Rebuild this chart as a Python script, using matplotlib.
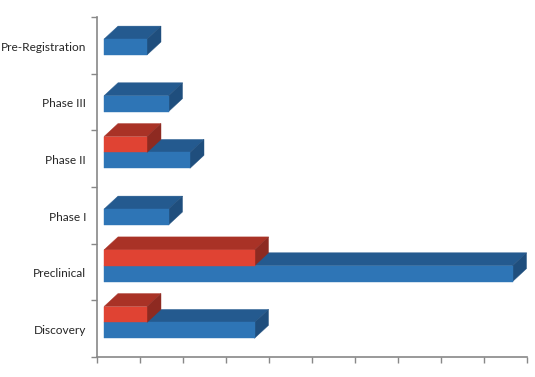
import numpy as np
import matplotlib.pyplot as plt
from matplotlib.patches import Polygon

categories = ['Discovery', 'Preclinical', 'Phase I', 'Phase II', 'Phase III', 'Pre-Registration']
blue_vals = [3.5, 9.5, 1.5, 2.0, 1.5, 1.0]
red_vals = [1.0, 3.5, 0, 1.0, 0, 0]

blue_cols = ('#2E75B6', '#245A8F', '#1F4E7D')  # front, top, side
red_cols = ('#E04333', '#A93226', '#8E2A21')

dx = 14 / 43.0    # depth offset in x units
dy = 13 / 56.7    # depth offset in y units


def box(ax, x, y0, h, cols):
    # front, top and side faces of a 3d bar
    front = [(0, y0), (x, y0), (x, y0 + h), (0, y0 + h)]
    top = [(0, y0 + h), (x, y0 + h), (x + dx, y0 + h + dy), (dx, y0 + h + dy)]
    side = [(x, y0), (x + dx, y0 + dy), (x + dx, y0 + h + dy), (x, y0 + h)]
    for pts, c in zip((top, side, front), (cols[1], cols[2], cols[0])):
        ax.add_patch(Polygon(pts, closed=True, facecolor=c, edgecolor=c, linewidth=0.3))


fig = plt.figure(figsize=(5.35, 3.77), dpi=100)
ax = fig.add_axes([97 / 535, 20 / 377, 430 / 535, 340 / 377])

h = 0.28
y = np.arange(len(categories))
for i in reversed(range(len(categories))):
    if blue_vals[i] > 0:
        box(ax, blue_vals[i], y[i] - 0.17, h, blue_cols)
    if red_vals[i] > 0:
        box(ax, red_vals[i], y[i] - 0.17 + h, h, red_cols)

ax.set_xlim(-7 / 43.0, 423 / 43.0)
ax.set_ylim(-0.5, len(categories) - 0.5)

ax.set_xticks(-7 / 43.0 + np.arange(11))
ax.set_xticklabels([])
ax.set_yticks(np.arange(len(categories) + 1) - 0.5)
ax.set_yticklabels([])
ax.tick_params(axis='both', direction='out', length=4, width=1, color='#888888')

for i, name in enumerate(categories):
    ax.text(-0.42, y[i] - 0.03, name, ha='right', va='center', fontsize=8.6,
            family='Lato', color='#262626')

for s in ('top', 'right'):
    ax.spines[s].set_visible(False)
for s in ('left', 'bottom'):
    ax.spines[s].set_color('#888888')
    ax.spines[s].set_linewidth(1.2)

fig.savefig('out.png', dpi=100)
